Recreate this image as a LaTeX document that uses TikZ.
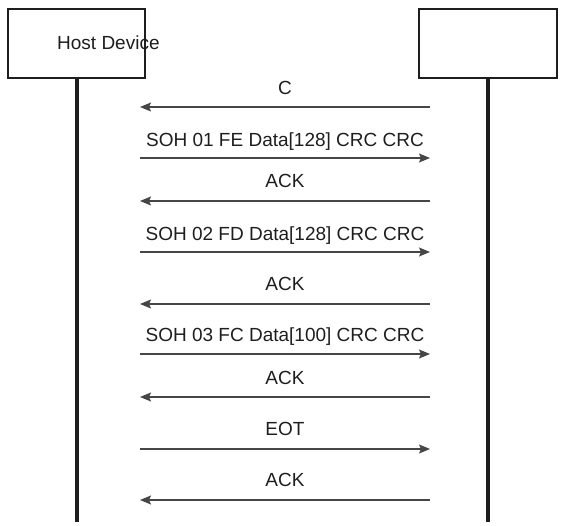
\documentclass[tikz,border=0pt]{standalone}
\usepackage{fontspec}
\setmainfont{Liberation Sans}
\usetikzlibrary{arrows.meta, positioning}
\definecolor{LineGray}{RGB}{70, 70, 70}
\definecolor{InkBlack}{RGB}{30, 30, 30}
\tikzset{
  dev/.style={rectangle, draw=InkBlack, line width=1.8pt, minimum width=137pt,
    minimum height=69pt, inner sep=0pt},
  life/.style={line width=4.5pt, color=InkBlack},
  msg/.style={-{Stealth[length=11pt, width=9pt, inset=2pt]}, line width=1.4pt,
    color=LineGray},
  lbl/.style={font=\fontsize{19}{22}\selectfont, text=InkBlack, inner sep=0pt,
    text depth=0pt},
}

\begin{document}
\begin{tikzpicture}[x=1pt, y=-1pt]
  \useasboundingbox (0,0) rectangle (562,526);
  % devices
  \node[dev] (host) at (76.5,43.5) {};
  \node[dev, minimum width=138pt] (target) at (488,43.5) {};
  \node[lbl, anchor=west] (hostlbl) at (57,43) {Host Device};
  % lifelines
  \coordinate (hostend) at (77,522);
  \coordinate (targetend) at (488,522);
  \draw[life] (host.south -| hostend) -- (hostend);
  \draw[life] (target.south) -- (targetend);
  % message ends
  \coordinate (h1) at (140,107); \coordinate (t1) at (430,107);
  \coordinate (h2) at (140,158); \coordinate (t2) at (430,158);
  \coordinate (h3) at (140,201); \coordinate (t3) at (430,201);
  \coordinate (h4) at (140,252); \coordinate (t4) at (430,252);
  \coordinate (h5) at (140,304); \coordinate (t5) at (430,304);
  \coordinate (h6) at (140,354); \coordinate (t6) at (430,354);
  \coordinate (h7) at (140,397); \coordinate (t7) at (430,397);
  \coordinate (h8) at (140,449); \coordinate (t8) at (430,449);
  \coordinate (h9) at (140,500); \coordinate (t9) at (430,500);
  % messages
  \draw[msg] (t1) -- node[lbl, above=12pt] (m1) {C} (h1);
  \draw[msg] (h2) -- node[lbl, above=11pt] (m2) {SOH 01 FE Data[128] CRC CRC} (t2);
  \draw[msg] (t3) -- node[lbl, above=13pt] (m3) {ACK} (h3);
  \draw[msg] (h4) -- node[lbl, above=11pt] (m4) {SOH 02 FD Data[128] CRC CRC} (t4);
  \draw[msg] (t5) -- node[lbl, above=13pt] (m5) {ACK} (h5);
  \draw[msg] (h6) -- node[lbl, above=12pt] (m6) {SOH 03 FC Data[100] CRC CRC} (t6);
  \draw[msg] (t7) -- node[lbl, above=12pt] (m7) {ACK} (h7);
  \draw[msg] (h8) -- node[lbl, above=13pt] (m8) {EOT} (t8);
  \draw[msg] (t9) -- node[lbl, above=13pt] (m9) {ACK} (h9);
\end{tikzpicture}
\end{document}
